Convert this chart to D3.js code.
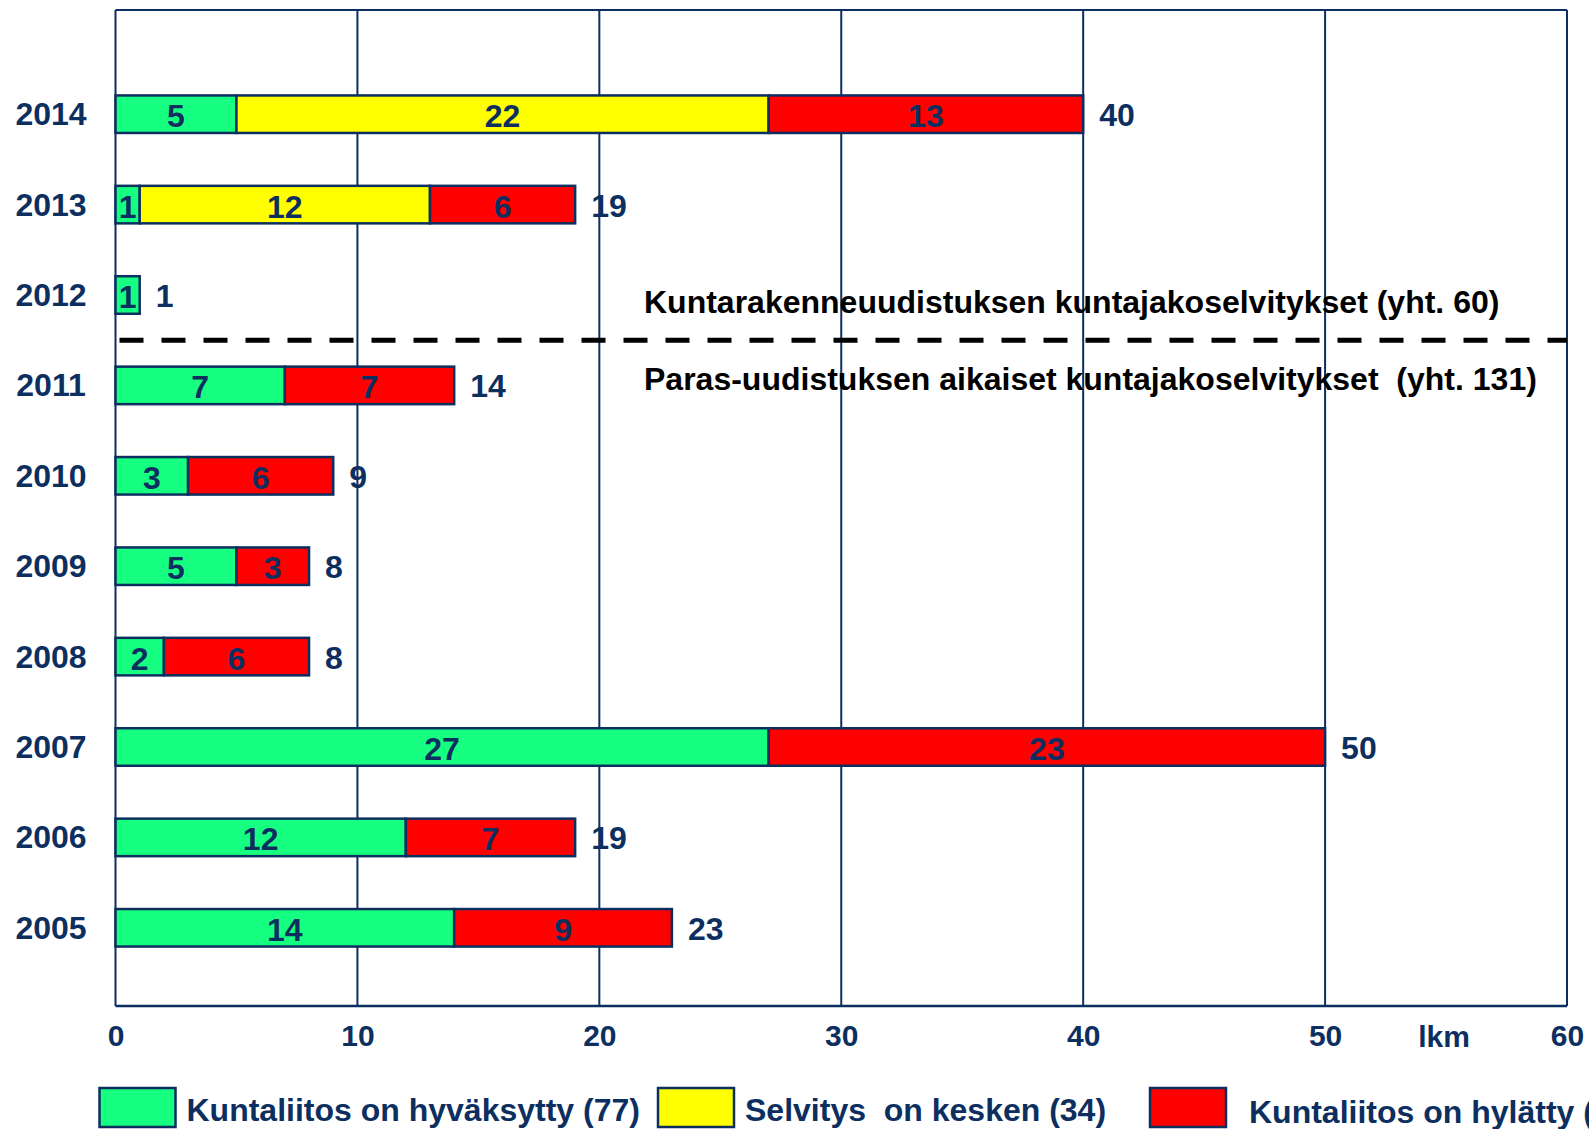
<!DOCTYPE html>
<html>
<head>
<meta charset="utf-8">
<script src="https://cdn.jsdelivr.net/npm/d3@7"></script>
<style>
  html, body { margin: 0; padding: 0; background: #fff; overflow: hidden; }
  svg { display: block; font-family: "Liberation Sans", Arial, sans-serif; font-weight: bold; }
</style>
</head>
<body>
<div id="chart"></div>
<script>
// data
const years = ['2014', '2013', '2012', '2011', '2010', '2009', '2008', '2007', '2006', '2005']
const approved = [5, 1, 1, 7, 3, 5, 2, 27, 12, 14]
const ongoing = [22, 12, 0, 0, 0, 0, 0, 0, 0, 0]
const rejected = [13, 6, 0, 7, 6, 3, 6, 23, 7, 9]
const xTicks = [0, 10, 20, 30, 40, 50, 60]
const seriesKeys = ['approved', 'ongoing', 'rejected']
const seriesNames = ['Kuntaliitos on hyväksytty (77)', 'Selvitys  on kesken (34)', 'Kuntaliitos on hylätty (80)']
const seriesColors = ['#17ff80', '#ffff00', '#ff0000']
const notes = ['Kuntarakenneuudistuksen kuntajakoselvitykset (yht. 60)',
               'Paras-uudistuksen aikaiset kuntajakoselvitykset  (yht. 131)']
const unitLabel = 'lkm'

const W = 1589, H = 1129
const navy = '#0d2f5f'
const fs = 32
const plotLeft = 115.5, plotRight = 1567, plotTop = 10, plotBottom = 1006

let rows = years.map((y, i) => ({
    year: y, approved: approved[i], ongoing: ongoing[i], rejected: rejected[i],
    total: approved[i] + ongoing[i] + rejected[i]
}))

let svg = d3.select('#chart').append('svg')
    .attr('width', W)
    .attr('height', H)

let x = d3.scaleLinear().domain([0, 60]).range([plotLeft, plotRight])
let y = d3.scaleBand().domain(years).range([69, 973]).paddingInner(0.585).paddingOuter(0.2925)

// frame + gridlines
svg.append('g').selectAll('line')
    .data(xTicks)
    .enter().append('line')
    .attr('x1', d => x(d)).attr('x2', d => x(d))
    .attr('y1', plotTop).attr('y2', plotBottom)
    .attr('stroke', navy).attr('stroke-width', 2)
svg.append('line')
    .attr('x1', plotLeft).attr('x2', plotRight).attr('y1', plotTop).attr('y2', plotTop)
    .attr('stroke', navy).attr('stroke-width', 2)
svg.append('line')
    .attr('x1', plotLeft).attr('x2', plotRight).attr('y1', plotBottom).attr('y2', plotBottom)
    .attr('stroke', navy).attr('stroke-width', 2.5)

// bars
let stack = d3.stack().keys(seriesKeys)(rows)
let layers = svg.append('g').selectAll('g')
    .data(stack)
    .enter().append('g')
    .attr('fill', (d, i) => seriesColors[i])

layers.selectAll('rect')
    .data(d => d.filter(s => s[1] > s[0]))
    .enter().append('rect')
    .attr('x', d => x(d[0]))
    .attr('y', d => y(d.data.year))
    .attr('width', d => x(d[1]) - x(d[0]))
    .attr('height', y.bandwidth())
    .attr('stroke', navy)
    .attr('stroke-width', 2.5)

layers.selectAll('text')
    .data(d => d.filter(s => s[1] > s[0]))
    .enter().append('text')
    .attr('x', d => (x(d[0]) + x(d[1])) / 2)
    .attr('y', d => y(d.data.year) + y.bandwidth() / 2 + 13)
    .attr('text-anchor', 'middle')
    .attr('fill', navy)
    .attr('font-size', fs)
    .text(d => d[1] - d[0])

// totals
svg.append('g').selectAll('text')
    .data(rows)
    .enter().append('text')
    .attr('x', d => x(d.total) + 16)
    .attr('y', d => y(d.year) + y.bandwidth() / 2 + 12)
    .attr('fill', navy)
    .attr('font-size', fs)
    .text(d => d.total)

// year labels
svg.append('g').selectAll('text')
    .data(years)
    .enter().append('text')
    .attr('x', 51)
    .attr('y', d => y(d) + y.bandwidth() / 2 + 11)
    .attr('text-anchor', 'middle')
    .attr('fill', navy)
    .attr('font-size', fs)
    .text(d => d)

// x axis labels
let axis = svg.append('g')
    .attr('transform', `translate(0,${plotBottom})`)
    .call(d3.axisBottom(x).tickValues(xTicks).tickSize(0).tickPadding(19).tickFormat(d3.format('d')))
axis.select('.domain').remove()
axis.selectAll('text')
    .attr('fill', navy)
    .attr('font-size', 30)
    .attr('font-family', '"Liberation Sans", Arial, sans-serif')
    .attr('font-weight', 'bold')
svg.append('text')
    .attr('x', x(55) - 2)
    .attr('y', 1047)
    .attr('text-anchor', 'middle')
    .attr('fill', navy)
    .attr('font-size', 30)
    .text(unitLabel)

// divider between the two reforms
let divY = (y('2012') + y('2011') + y.bandwidth()) / 2
svg.append('line')
    .attr('x1', plotLeft + 4).attr('x2', plotRight)
    .attr('y1', divY).attr('y2', divY)
    .attr('stroke', '#000')
    .attr('stroke-width', 5)
    .attr('stroke-dasharray', '24,18')

svg.append('g').selectAll('text')
    .data(notes)
    .enter().append('text')
    .attr('x', 644)
    .attr('y', (d, i) => i === 0 ? divY - 27 : divY + 50)
    .attr('fill', '#000')
    .attr('font-size', fs)
    .style('white-space', 'pre')
    .text(d => d)

// legend
let legendX = [99.5, 658, 1150]
let legend = svg.append('g').selectAll('g')
    .data(seriesNames)
    .enter().append('g')
    .attr('transform', (d, i) => `translate(${legendX[i]},1088)`)
legend.append('rect')
    .attr('width', 76).attr('height', 39)
    .attr('fill', (d, i) => seriesColors[i])
    .attr('stroke', navy).attr('stroke-width', 2.5)
legend.append('text')
    .attr('x', (d, i) => i === 2 ? 99 : 87)
    .attr('y', (d, i) => i === 2 ? 35 : 33)
    .attr('fill', navy)
    .attr('font-size', fs)
    .style('white-space', 'pre')
    .text(d => d)
</script>
</body>
</html>
